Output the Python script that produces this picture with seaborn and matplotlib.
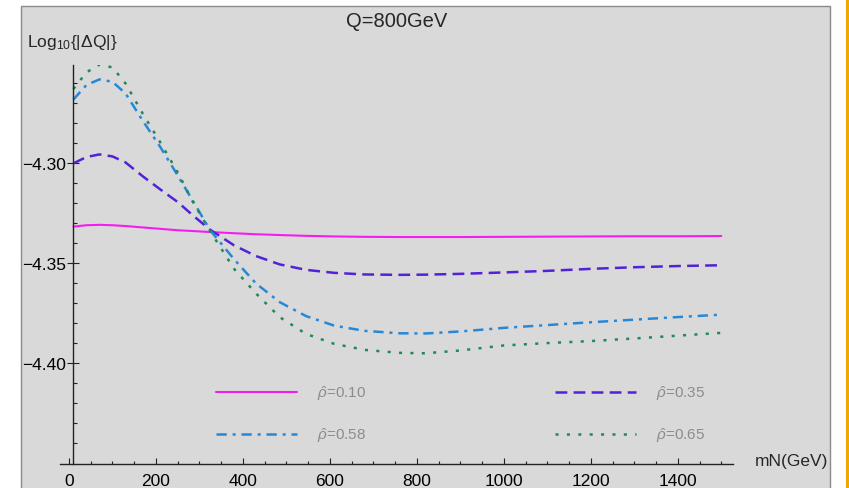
import numpy as np
import pandas as pd
import matplotlib
matplotlib.use("Agg")
import matplotlib.pyplot as plt
import seaborn as sns
from matplotlib.patches import Rectangle
from matplotlib.lines import Line2D
from matplotlib.ticker import FuncFormatter

# ---------------- data ----------------
mN = [10, 40, 70, 100, 130, 170, 210, 250, 285, 325, 380, 430, 485, 545,
      610, 680, 760, 820, 900, 1000, 1100, 1200, 1300, 1400, 1500]

rho_labels = ["0.10", "0.35", "0.58", "0.65"]

dq_010 = [-4.3316, -4.3309, -4.3307, -4.3309, -4.3313, -4.3320, -4.3327, -4.3334,
          -4.3338, -4.3343, -4.3349, -4.3354, -4.3358, -4.3362, -4.3365, -4.3367,
          -4.3368, -4.3368, -4.3368, -4.3367, -4.3366, -4.3365, -4.3364, -4.3364,
          -4.3363]
dq_035 = [-4.3000, -4.2968, -4.2955, -4.2965, -4.2995, -4.3065, -4.3130, -4.3193,
          -4.3260, -4.3332, -4.3410, -4.3463, -4.3505, -4.3532, -4.3547, -4.3555,
          -4.3557, -4.3556, -4.3552, -4.3545, -4.3537, -4.3527, -4.3519, -4.3513,
          -4.3509]
dq_058 = [-4.2681, -4.2608, -4.2580, -4.2592, -4.2650, -4.2788, -4.2918, -4.3060,
          -4.3188, -4.3335, -4.3480, -4.3600, -4.3694, -4.3763, -4.3811, -4.3837,
          -4.3849, -4.3850, -4.3840, -4.3822, -4.3808, -4.3794, -4.3781, -4.3768,
          -4.3756]
dq_065 = [-4.2628, -4.2545, -4.2506, -4.2520, -4.2600, -4.2753, -4.2895, -4.3045,
          -4.3193, -4.3340, -4.3528, -4.3650, -4.3769, -4.3852, -4.3902, -4.3932,
          -4.3947, -4.3949, -4.3935, -4.3910, -4.3898, -4.3888, -4.3875, -4.3861,
          -4.3847]

x_major = [0, 200, 400, 600, 800, 1000, 1200, 1400]
y_major = [-4.40, -4.35, -4.30]

colors = ["#f41cf0", "#5222d8", "#2788d8", "#1f8a56"]
dash_specs = ["", (8.5, 4.5), (7.4, 4.2, 2.2, 4.2), (2.2, 6.0)]

df = pd.concat(
    [pd.DataFrame({"mN": mN, "logdQ": v, "rho": r})
     for r, v in zip(rho_labels, [dq_010, dq_035, dq_058, dq_065])],
    ignore_index=True)

# ---------------- style ----------------
sns.set_style("ticks")
plt.rcParams["font.family"] = ["Liberation Sans", "DejaVu Sans"]
plt.rcParams["mathtext.fontset"] = "custom"
plt.rcParams["mathtext.rm"] = "Liberation Sans"
plt.rcParams["mathtext.it"] = "Liberation Sans:italic"
plt.rcParams["lines.scale_dashes"] = False

W, H = 849, 489
fig = plt.figure(figsize=(W / 100, H / 100), dpi=100)
fig.patch.set_facecolor("white")

# gray panel behind the plot
fig.patches.append(Rectangle((21 / W, -0.01), (830 - 21) / W, 1.01 - 7 / H,
                             transform=fig.transFigure, facecolor="#d9d9d9",
                             edgecolor="#8a8a8a", linewidth=1.0, zorder=-10))
# orange edge line at right
fig.add_artist(Line2D([846.5 / W, 846.5 / W], [0, 1], transform=fig.transFigure,
                      color="#f0a800", linewidth=2.2, zorder=-10))

ax = fig.add_axes([60 / W, 1 - 464.5 / H, (733 - 60) / W, (464.5 - 66) / H])
ax.set_zorder(5)
ax.patch.set_alpha(0)

sns.lineplot(data=df, x="mN", y="logdQ", hue="rho", style="rho",
             hue_order=rho_labels, style_order=rho_labels,
             palette=dict(zip(rho_labels, colors)),
             dashes=dict(zip(rho_labels, dash_specs)),
             estimator=None, sort=False, linewidth=1.8, legend=False, ax=ax)
ax.lines[0].set_linewidth(1.5)

ax.set_xlim(-20.7, 1527)
ax.set_ylim(-4.45, -4.2508)

for s in ["top", "right"]:
    ax.spines[s].set_visible(False)
ax.spines["left"].set_position(("data", 10))
for s in ["left", "bottom"]:
    ax.spines[s].set_color("#222222")
    ax.spines[s].set_linewidth(1.0)

ax.set_xticks(x_major)
ax.set_xticks(np.arange(0, 1501, 50), minor=True)
ax.set_yticks(y_major)
ax.set_yticks(np.arange(-4.44, -4.255, 0.01), minor=True)
ax.yaxis.set_major_formatter(FuncFormatter(lambda v, _: f"{v:.2f}".replace("-", "\u2212")))

ax.tick_params(axis="x", which="major", direction="in", length=4, width=0.8,
               colors="#222222", labelsize=12.5, pad=7, labelcolor="black")
ax.tick_params(axis="x", which="minor", direction="in", length=2, width=0.8,
               colors="#222222")
ax.tick_params(axis="y", which="major", direction="inout", length=8.5, width=0.8,
               colors="#222222", labelsize=12.5, pad=1, labelcolor="black")
ax.tick_params(axis="y", which="minor", direction="in", length=3, width=0.8,
               colors="#222222")

ax.set_ylabel(r"Log$_{10}${|ΔQ|}", rotation=0, fontsize=12.5, ha="left", va="baseline")
ax.yaxis.set_label_coords((27 - 60) / 673, (464.5 - 46.7) / 398.5)
ax.set_xlabel("mN(GeV)", fontsize=12.5, ha="right", va="center")
ax.xaxis.set_label_coords((828 - 60) / 673, (464.5 - 462) / 398.5)
ax.set_title("Q=800GeV", fontsize=14.5, y=(464.5 - 27.3) / 398.5, pad=0)

handles = [ax.lines[i] for i in (0, 2, 1, 3)]
labels = [r"$\hat{\rho}$=" + rho_labels[i] for i in (0, 2, 1, 3)]
leg = ax.legend(handles, labels, ncol=2, frameon=False, fontsize=11,
                loc="upper left", bbox_to_anchor=(216 / W, 1 - 384 / H),
                bbox_transform=fig.transFigure, borderpad=0, borderaxespad=0,
                handlelength=5.3, handletextpad=1.3, columnspacing=12.4,
                labelspacing=1.55)
for t in leg.get_texts():
    t.set_color("#8c8c8c")

fig.savefig("out.png", dpi=100)
